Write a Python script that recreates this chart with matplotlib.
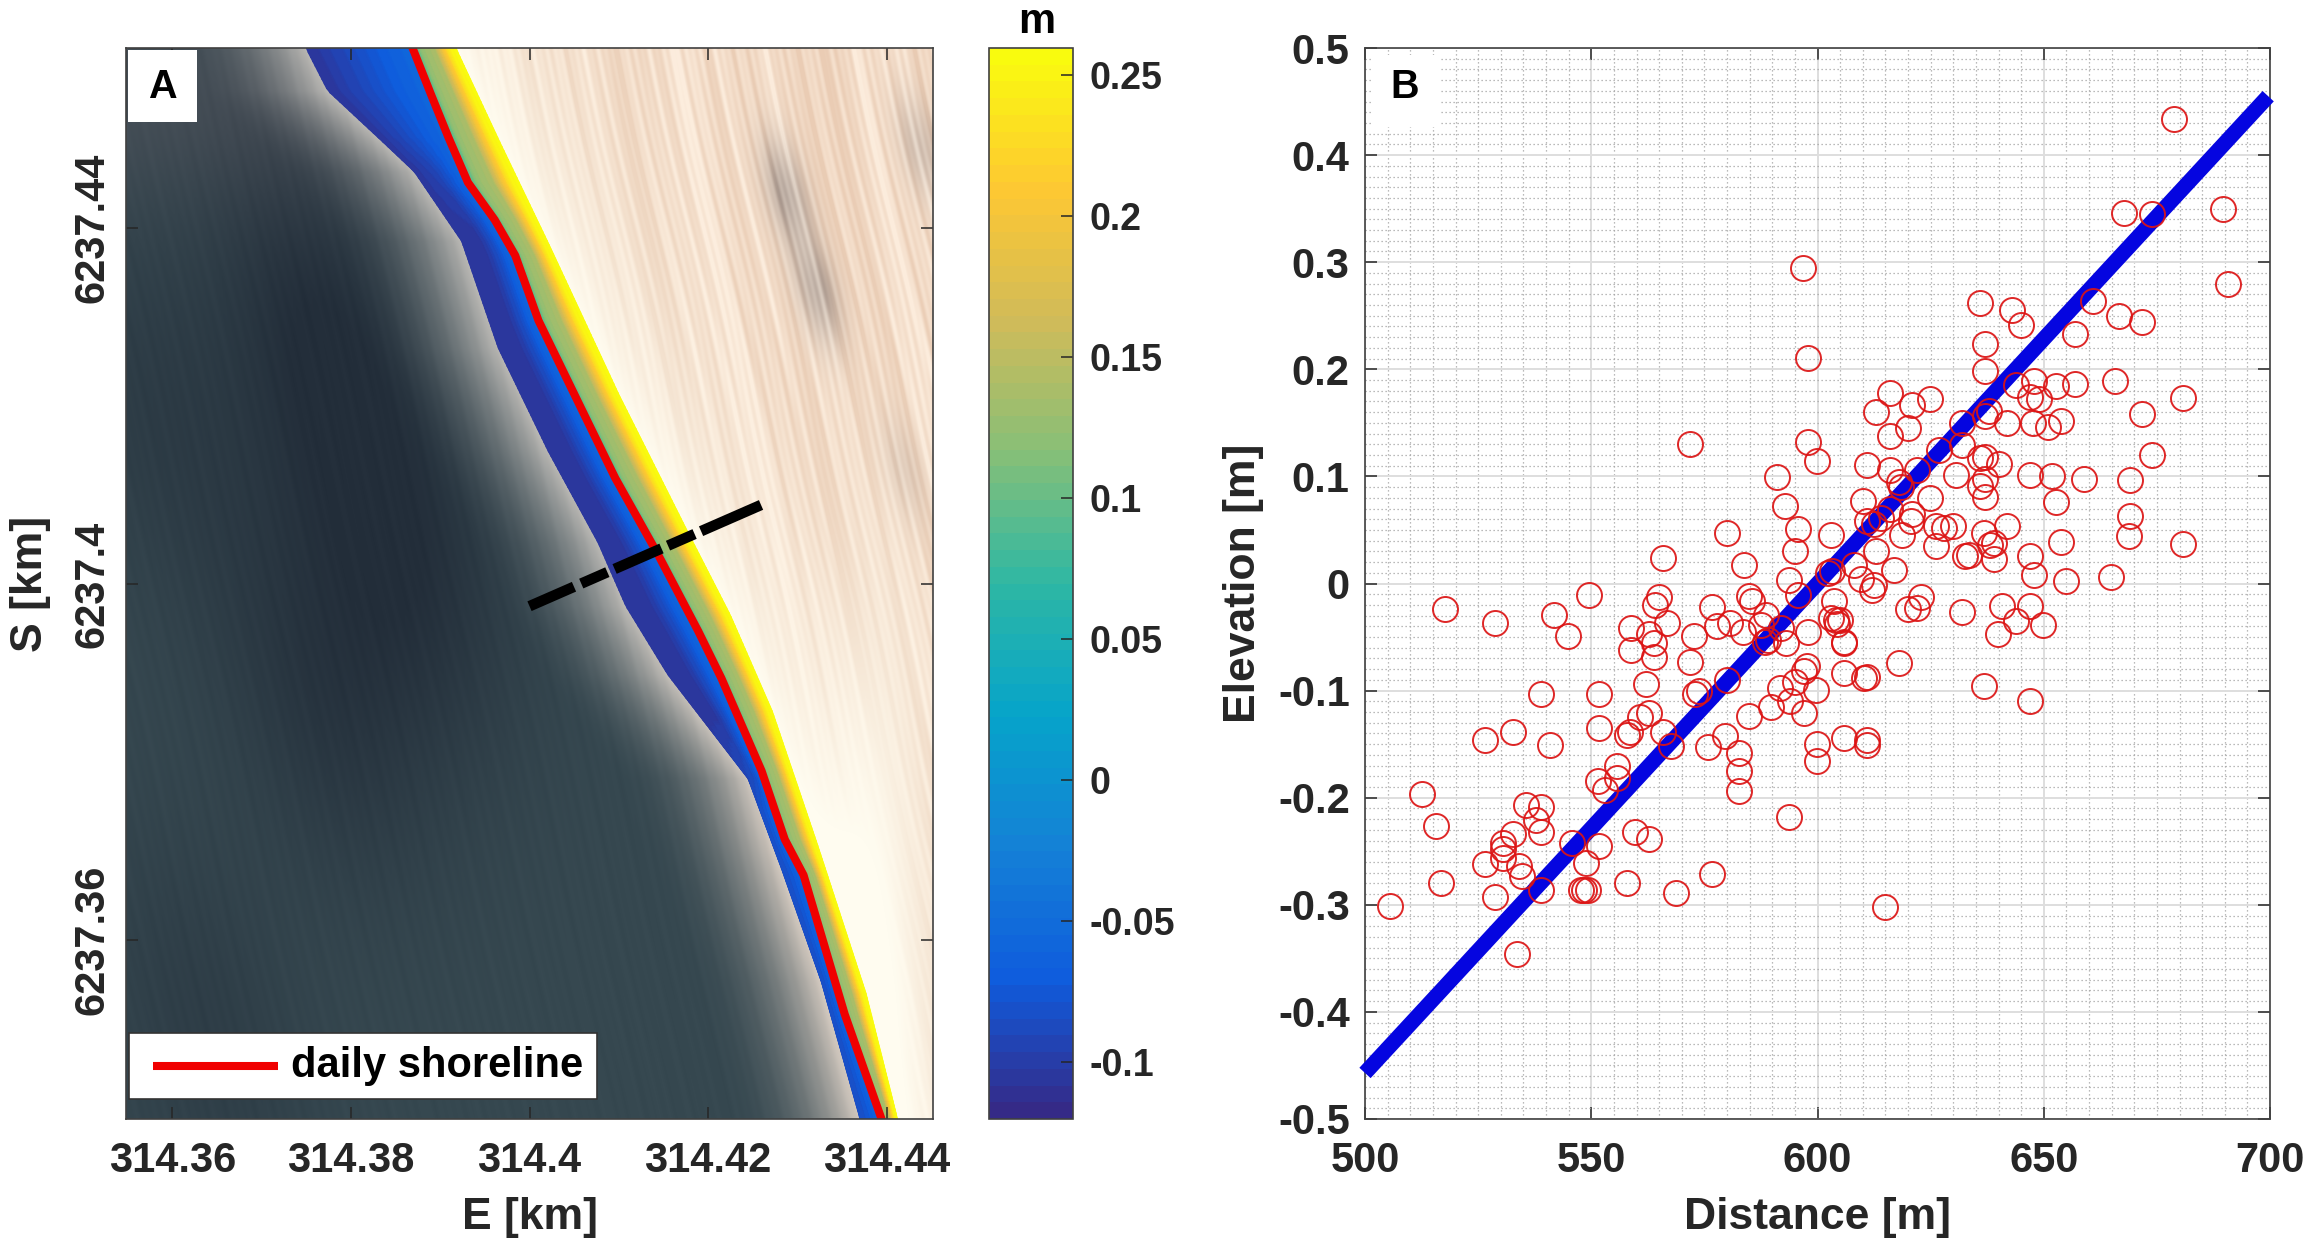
import numpy as np
import matplotlib
matplotlib.use("Agg")
import matplotlib.pyplot as plt
from matplotlib.colors import LinearSegmentedColormap
from matplotlib.patches import Rectangle
from matplotlib.ticker import MultipleLocator

plt.rcParams['font.family'] = ['Liberation Sans', 'DejaVu Sans']
plt.rcParams['font.weight'] = 'bold'
plt.rcParams['axes.labelweight'] = 'bold'
plt.rcParams['text.color'] = '#262626'
plt.rcParams['axes.labelcolor'] = '#262626'
plt.rcParams['xtick.color'] = '#262626'
plt.rcParams['ytick.color'] = '#262626'

# Panel A: shoreline positions [km], north to south
red_e = [314.3869, 314.3890, 314.3909, 314.3931, 314.3961, 314.3984, 314.4010, 314.4058,
         314.4096, 314.4144, 314.4189, 314.4215, 314.4260, 314.4286, 314.4307, 314.4353, 314.4394]
red_s = [6237.4602, 6237.4549, 6237.4502, 6237.4451, 6237.4409, 6237.4369, 6237.4296, 6237.4197,
         6237.4119, 6237.4033, 6237.3947, 6237.3894, 6237.3790, 6237.3713, 6237.3673, 6237.3517, 6237.3400]
sea_edge_e = [314.3750, 314.3774, 314.3834, 314.3871, 314.3924, 314.3965, 314.4021, 314.4077,
              314.4108, 314.4155, 314.4245, 314.4282, 314.4327, 314.4370]
sea_edge_s = [6237.4601, 6237.4554, 6237.4498, 6237.4463, 6237.4385, 6237.4265, 6237.4149, 6237.4046,
              6237.3975, 6237.3898, 6237.3781, 6237.3681, 6237.3553, 6237.3400]
land_edge_e = [314.3918, 314.3966, 314.4022, 314.4100, 314.4175, 314.4225, 314.4272, 314.4322, 314.4377, 314.4412]
land_edge_s = [6237.4601, 6237.4498, 6237.4381, 6237.4213, 6237.4063, 6237.3965, 6237.3857, 6237.3709, 6237.3540, 6237.3400]

# elevation across the band, fraction of width from sea edge to red line / red line to land edge
sea_frac = [0.0, 0.45, 0.7, 0.9, 1.0]
sea_val = [-0.106, -0.103, -0.08, -0.058, -0.05]
sea_val_north = [-0.108, -0.085, -0.07, -0.06, -0.055]
sea_val_south = [-0.085, -0.075, -0.065, -0.055, -0.05]
land_frac = [0.0, 0.08, 0.2, 0.5, 0.68, 0.84, 1.0]
land_val = [0.03, 0.09, 0.125, 0.14, 0.2, 0.245, 0.26]

profile_e = [314.4000, 314.4260]
profile_s = [6237.3975, 6237.4089]

# dark patches in the water and grey ones on the beach [km]
dark_e = [314.3768, 314.3868, 314.3768, 314.3585, 314.3635]
dark_s = [6237.4275, 6237.4024, 6237.3875, 6237.4190, 6237.3505]
dark_amp = [0.9, 0.75, 0.65, 0.45, 0.4]
grey_e = [314.4288, 314.4322, 314.4438, 314.4420]
grey_s = [6237.4440, 6237.4330, 6237.4490, 6237.4130]
grey_amp = [0.6, 0.55, 0.35, 0.15]

# Panel B: surveyed points
dist_m = [678.7, 667.8, 673.9, 689.7, 690.8, 635.9, 642.9, 644.9, 660.8, 666.7, 671.8, 656.8,
          637.0, 637.0, 665.8, 656.8, 652.8, 647.8, 643.8, 646.9, 648.9, 680.7, 671.8, 653.8,
          650.9, 647.6, 641.8, 637.9, 637.0, 631.9, 616.0, 612.9, 620.9, 624.9, 620.0, 616.0,
          632.0, 626.9, 674.0, 610.9, 616.0, 622.0, 636.0, 637.0, 640.0, 669.0, 646.9, 651.8,
          658.8, 630.7, 618.0, 618.4, 637.0, 636.0, 637.0, 624.9, 610.0, 652.8, 669.0, 614.0,
          616.0, 620.9,
          603.0, 611.0, 612.5, 620.6, 618.7, 626.1, 627.9, 630.0, 626.1, 636.8, 639.0, 638.2,
          641.9, 633.5, 632.7, 639.0, 646.9, 647.8, 653.8, 654.9, 664.8, 668.8, 680.7, 603.3,
          612.9, 608.0, 609.6, 612.1, 612.5, 617.0, 603.7, 603.0, 604.4, 604.0, 605.0, 605.9,
          605.9, 605.9, 610.3, 611.0, 618.0, 620.0, 622.0, 622.9, 631.9, 640.8, 646.9, 643.8,
          649.8, 639.9, 636.9, 646.9, 605.9, 610.9, 610.9, 614.9,
          579.9, 595.8, 595.0, 583.8, 565.9, 593.7, 602.4, 549.6, 517.7, 528.7, 541.7, 544.8,
          565.0, 564.0, 566.8, 558.7, 558.7, 562.8, 563.8, 563.9, 572.7, 571.8, 576.7, 577.7,
          580.6, 583.5, 584.8, 585.6, 588.7, 587.6, 592.0, 588.3, 593.0, 597.9, 595.8, 589.0,
          597.7, 597.0, 595.0, 591.7, 593.9, 589.7, 599.6, 597.0, 584.9, 579.9, 573.9, 572.9,
          562.0, 551.7, 538.8, 562.8, 560.8, 551.7, 558.5, 557.8, 565.9, 567.7, 532.8, 526.6,
          540.8, 575.8, 579.6, 582.7, 582.7, 582.7, 593.7, 599.9, 599.9, 555.7, 555.7, 551.5,
          553.0, 512.7, 515.8, 535.6, 538.8, 537.8, 538.8, 559.7, 562.8, 551.7, 545.7, 548.9,
          532.8, 530.6, 530.6, 530.6, 526.6, 534.0, 534.7, 516.8, 505.5, 528.7, 538.8, 557.9,
          547.8, 549.3, 548.4, 568.8, 576.7, 533.7,
          596.9, 597.8, 571.8, 597.8, 599.9, 591.0, 592.8]
elev_m = [0.434, 0.346, 0.345, 0.350, 0.280, 0.262, 0.255, 0.241, 0.264, 0.250, 0.244, 0.233,
          0.224, 0.198, 0.189, 0.186, 0.184, 0.189, 0.185, 0.174, 0.172, 0.173, 0.158, 0.152,
          0.146, 0.150, 0.150, 0.161, 0.156, 0.150, 0.178, 0.160, 0.167, 0.172, 0.145, 0.138,
          0.129, 0.125, 0.120, 0.111, 0.106, 0.106, 0.117, 0.118, 0.112, 0.097, 0.101, 0.100,
          0.098, 0.101, 0.095, 0.090, 0.098, 0.091, 0.081, 0.080, 0.077, 0.076, 0.063, 0.061,
          0.070, 0.065,
          0.045, 0.058, 0.056, 0.058, 0.045, 0.054, 0.052, 0.054, 0.035, 0.047, 0.038, 0.036,
          0.054, 0.027, 0.026, 0.023, 0.026, 0.008, 0.039, 0.002, 0.006, 0.044, 0.037, 0.012,
          0.030, 0.017, 0.004, -0.006, -0.001, 0.013, -0.016, -0.032, -0.038, -0.034, -0.034, -0.056,
          -0.055, -0.084, -0.088, -0.087, -0.074, -0.024, -0.023, -0.013, -0.027, -0.021, -0.021, -0.035,
          -0.039, -0.047, -0.096, -0.110, -0.144, -0.146, -0.151, -0.302,
          0.047, 0.051, 0.030, 0.017, 0.024, 0.003, 0.010, -0.011, -0.024, -0.037, -0.029, -0.049,
          -0.013, -0.020, -0.037, -0.042, -0.062, -0.047, -0.056, -0.069, -0.049, -0.073, -0.022, -0.040,
          -0.037, -0.045, -0.012, -0.016, -0.029, -0.039, -0.042, -0.055, -0.056, -0.045, -0.011, -0.053,
          -0.077, -0.082, -0.092, -0.098, -0.110, -0.115, -0.099, -0.121, -0.124, -0.090, -0.100, -0.103,
          -0.094, -0.103, -0.103, -0.121, -0.125, -0.135, -0.139, -0.141, -0.139, -0.152, -0.139, -0.146,
          -0.151, -0.153, -0.142, -0.158, -0.175, -0.194, -0.218, -0.150, -0.166, -0.170, -0.182, -0.184,
          -0.193, -0.197, -0.226, -0.207, -0.209, -0.221, -0.232, -0.232, -0.239, -0.245, -0.242, -0.261,
          -0.234, -0.242, -0.248, -0.256, -0.262, -0.264, -0.273, -0.280, -0.301, -0.293, -0.286, -0.280,
          -0.286, -0.286, -0.286, -0.289, -0.271, -0.346,
          0.295, 0.211, 0.130, 0.132, 0.114, 0.099, 0.072]

fit_x = [500, 699.6]
fit_y = [-0.457, 0.455]

parula = LinearSegmentedColormap.from_list(
    'parula', ['#352A87', '#0F5CDD', '#1481D6', '#06A4CA', '#2EB7A4',
               '#87BF77', '#D1BB59', '#FEC832', '#F9FB0E'], N=64)

E_LIM = (314.3548, 314.4452)
S_LIM = (6237.3399, 6237.4602)
C_LIM = (-0.1202, 0.2596)
W, H = 2312.0, 1248.0


def px_axes(x0, y0, x1, y1):
    return [x0 / W, 1 - y1 / H, (x1 - x0) / W, (y1 - y0) / H]


def along(s, edge_e, edge_s):
    return np.interp(s, edge_s[::-1], edge_e[::-1])


def background():
    e = np.linspace(E_LIM[0], E_LIM[1], 807)
    s = np.linspace(S_LIM[1], S_LIM[0], 1071)
    ee, ss = np.meshgrid(e, s)
    sea_d = ee - along(ss, sea_edge_e, sea_edge_s)
    land_d = ee - along(ss, land_edge_e, land_edge_s)
    xm = (ee - E_LIM[0]) * 1000
    ym = (S_LIM[1] - ss) * 1000
    q = xm - 0.22 * ym

    # water, with faint streaks and dark patches
    patch = np.zeros_like(ee)
    for pe, ps, amp in zip(dark_e, dark_s, dark_amp):
        dq = (ee - pe + 0.22 * (ss - ps)) / 0.011
        patch += amp * np.exp(-dq ** 2 - ((ss - ps) / 0.022) ** 2)
    patch = np.clip(patch, 0, 1)[..., None]
    sea = (1 - patch) * np.array([54, 72, 80.]) + patch * np.array([35, 46, 58.])
    corner = np.exp(-((ss - 6237.455) / 0.012) ** 2)[..., None]
    sea = sea + corner * np.array([16, 8, 8.])
    ramp = np.clip(1 + sea_d / 0.015, 0, 1)[..., None] ** 2.2
    south = np.clip((6237.40 - ss) / 0.03, 0, 1)[..., None]
    shore = (1 - south) * np.array([186, 184, 180.]) + south * np.array([212, 202, 192.])
    sea = (1 - ramp) * sea + ramp * shore
    streak = np.sin(q / 0.17 + np.sin(ym / 7)) + 0.8 * np.sin(q / 0.29 + 1.1) + 0.7 * np.sin(q / 0.47 + np.sin(ym / 11))
    sea = sea + streak[..., None] * 0.8

    # sand, bright next to the water line, fine streaks that do not repeat evenly
    tex = (0.35 * np.sin(q / 0.13 + 1.5 * np.sin(ym / 6)) + 0.35 * np.sin(q / 0.23 + 1.5 * np.sin(ym / 13 + 1))
           + 0.35 * np.sin(q / 0.41 + np.sin(ym / 9)) + 0.3 * np.sin(q / 0.79 + 2.0 + ym / 31)
           + 0.3 * np.sin(q / 1.7 + np.sin(ym / 17)) + 0.25 * np.sin(q / 3.7 + ym / 40))
    tex = np.clip(0.55 + 0.5 * tex, 0, 1)[..., None]
    sand = (1 - tex) * np.array([252, 236, 220.]) + tex * np.array([234, 204, 180.])
    white = np.exp(-np.clip(land_d, 0, None) / 0.0085)
    white = np.clip(white + 0.5 * np.exp(-((ee - 314.4390) / 0.006) ** 2 - ((ss - 6237.372) / 0.035) ** 2), 0, 1)[..., None]
    sand = (1 - white) * sand + white * np.array([255, 252, 240.])
    blot = np.zeros_like(ee)
    for pe, ps, amp in zip(grey_e, grey_s, grey_amp):
        dq = (ee - pe + 0.22 * (ss - ps)) / 0.0022
        blot += amp * np.exp(-dq ** 2 - ((ss - ps) / 0.006) ** 2)
    blot = np.clip(blot, 0, 1)[..., None] * (0.45 + 0.55 * tex)
    sand = (1 - blot) * sand + blot * np.array([110, 104, 106.])

    img = np.where((land_d > -0.002)[..., None], sand, sea)
    return np.clip(img, 0, 255) / 255


fig = plt.figure(figsize=(23.12, 12.48), dpi=100)

# Panel A
ax = fig.add_axes(px_axes(126, 48, 933, 1119))
ax.imshow(background(), extent=[E_LIM[0], E_LIM[1], S_LIM[0], S_LIM[1]], aspect='auto',
          interpolation='bilinear', zorder=0)

s_rows = np.linspace(S_LIM[0], S_LIM[1], 240)
left = along(s_rows, sea_edge_e, sea_edge_s)
mid = along(s_rows, red_e, red_s)
right = along(s_rows, land_edge_e, land_edge_s)
t = np.linspace(0, 1, 40)
band_e = np.hstack([left[:, None] + (mid - left)[:, None] * t[:-1], mid[:, None] + (right - mid)[:, None] * t])
band_s = np.repeat(s_rows[:, None], band_e.shape[1], axis=1)
w_north = np.clip((s_rows - 6237.440) / 0.010, 0, 1)[:, None]
w_south = np.clip((6237.385 - s_rows) / 0.010, 0, 1)[:, None]
sea_rows = ((1 - w_north - w_south) * np.interp(t[:-1], sea_frac, sea_val)
            + w_north * np.interp(t[:-1], sea_frac, sea_val_north)
            + w_south * np.interp(t[:-1], sea_frac, sea_val_south))
band_v = np.hstack([sea_rows, np.tile(np.interp(t, land_frac, land_val), (240, 1))])
mesh = ax.pcolormesh(band_e, band_s, band_v, cmap=parula, vmin=C_LIM[0], vmax=C_LIM[1],
                     shading='gouraud', zorder=1)
ax.plot(red_e, red_s, color='#f00000', lw=5.8, zorder=2, solid_joinstyle='round')
ax.plot(profile_e, profile_s, color='black', lw=7.6, zorder=3, dash_capstyle='butt',
        linestyle=(0, (4.6, 0.75, 2.7, 0.75, 4.85, 0.67, 2.75, 0.67, 6.2, 1.0)))

ax.set_xlim(E_LIM)
ax.set_ylim(S_LIM)
ax.set_xticks([314.36, 314.38, 314.40, 314.42, 314.44])
ax.set_xticklabels(['314.36', '314.38', '314.4', '314.42', '314.44'])
ax.set_yticks([6237.36, 6237.40, 6237.44])
ax.set_yticklabels(['6237.36', '6237.4', '6237.44'], rotation=90, va='center')
ax.tick_params(direction='in', length=8.5, width=1.1, labelsize=30, top=True, right=True)
ax.tick_params(axis='x', pad=16)
ax.tick_params(axis='y', pad=10)
ax.set_xlabel('E [km]', fontsize=32, labelpad=11)
ax.set_ylabel('S [km]', fontsize=32, labelpad=15)

ax.add_patch(Rectangle((0.0025, 0.931), 0.0855, 0.067, transform=ax.transAxes, fc='white', ec='none', zorder=5))
ax.text(0.0445, 0.9635, 'A', transform=ax.transAxes, fontsize=28.5, color='black',
        ha='center', va='center', zorder=6)

# legend box
ax.add_patch(Rectangle((0.0032, 0.0187), 0.581, 0.0616, transform=ax.transAxes, fc='white',
                       ec='#333333', lw=1.2, zorder=5))
ax.plot([0.0337, 0.1885], [0.0495, 0.0495], transform=ax.transAxes, color='#f00000', lw=5.8,
        solid_capstyle='butt', zorder=6, label='daily shoreline')
ax.text(0.2045, 0.0495, 'daily shoreline', transform=ax.transAxes, fontsize=30, color='black',
        ha='left', va='center', zorder=6)

for side in ax.spines.values():
    side.set_linewidth(1.2)
    side.set_color('#404040')
    side.set_zorder(7)

# colorbar
cax = fig.add_axes(px_axes(989, 48, 1073, 1119))
cb = fig.colorbar(mesh, cax=cax)
cb.set_ticks([-0.1, -0.05, 0, 0.05, 0.1, 0.15, 0.2, 0.25])
cb.set_ticklabels(['-0.1', '-0.05', '0', '0.05', '0.1', '0.15', '0.2', '0.25'])
cax.tick_params(direction='in', length=8.5, width=1.1, labelsize=27, pad=12)
cb.outline.set_linewidth(1.2)
cb.outline.set_edgecolor('#404040')
fig.text(1037 / W, 1 - 22 / H, 'm', fontsize=30, color='black', ha='center', va='center')

# Panel B
bx = fig.add_axes(px_axes(1365, 48, 2270, 1119))
bx.set_axisbelow(True)
bx.xaxis.set_major_locator(MultipleLocator(50))
bx.xaxis.set_minor_locator(MultipleLocator(5))
bx.yaxis.set_major_locator(MultipleLocator(0.1))
bx.yaxis.set_minor_locator(MultipleLocator(0.01))
bx.grid(which='minor', color='#a4a4a4', lw=0.9, linestyle=(0, (1, 2.2)))
bx.grid(which='major', color='#dedede', lw=1.4)
bx.plot(fit_x, fit_y, color='#0505e0', lw=11, solid_capstyle='butt', clip_on=False, zorder=3)
bx.plot(dist_m, elev_m, 'o', ms=18, mfc='none', mec='#dc1414', mew=1.4, alpha=0.92, zorder=4, linestyle='none')
bx.set_xlim(500, 700)
bx.set_ylim(-0.5, 0.5)
bx.set_yticks(np.arange(-5, 6) / 10)
bx.set_yticklabels(['-0.5', '-0.4', '-0.3', '-0.2', '-0.1', '0', '0.1', '0.2', '0.3', '0.4', '0.5'])
bx.tick_params(which='major', direction='in', length=8.5, width=1.1, labelsize=30, top=True, right=True)
bx.tick_params(axis='x', which='major', pad=16)
bx.tick_params(axis='y', which='major', pad=11)
bx.tick_params(which='minor', length=0)
bx.set_xlabel('Distance [m]', fontsize=32, labelpad=11)
bx.set_ylabel('Elevation [m]', fontsize=32, labelpad=10)

bx.add_patch(Rectangle((0.0077, 0.926), 0.076, 0.0675, transform=bx.transAxes, fc='white', ec='none', zorder=2))
bx.text(0.044, 0.9635, 'B', transform=bx.transAxes, fontsize=28.5, color='black',
        ha='center', va='center', zorder=6)
for side in bx.spines.values():
    side.set_linewidth(1.2)
    side.set_color('#404040')

fig.savefig('out.png', dpi=100)
